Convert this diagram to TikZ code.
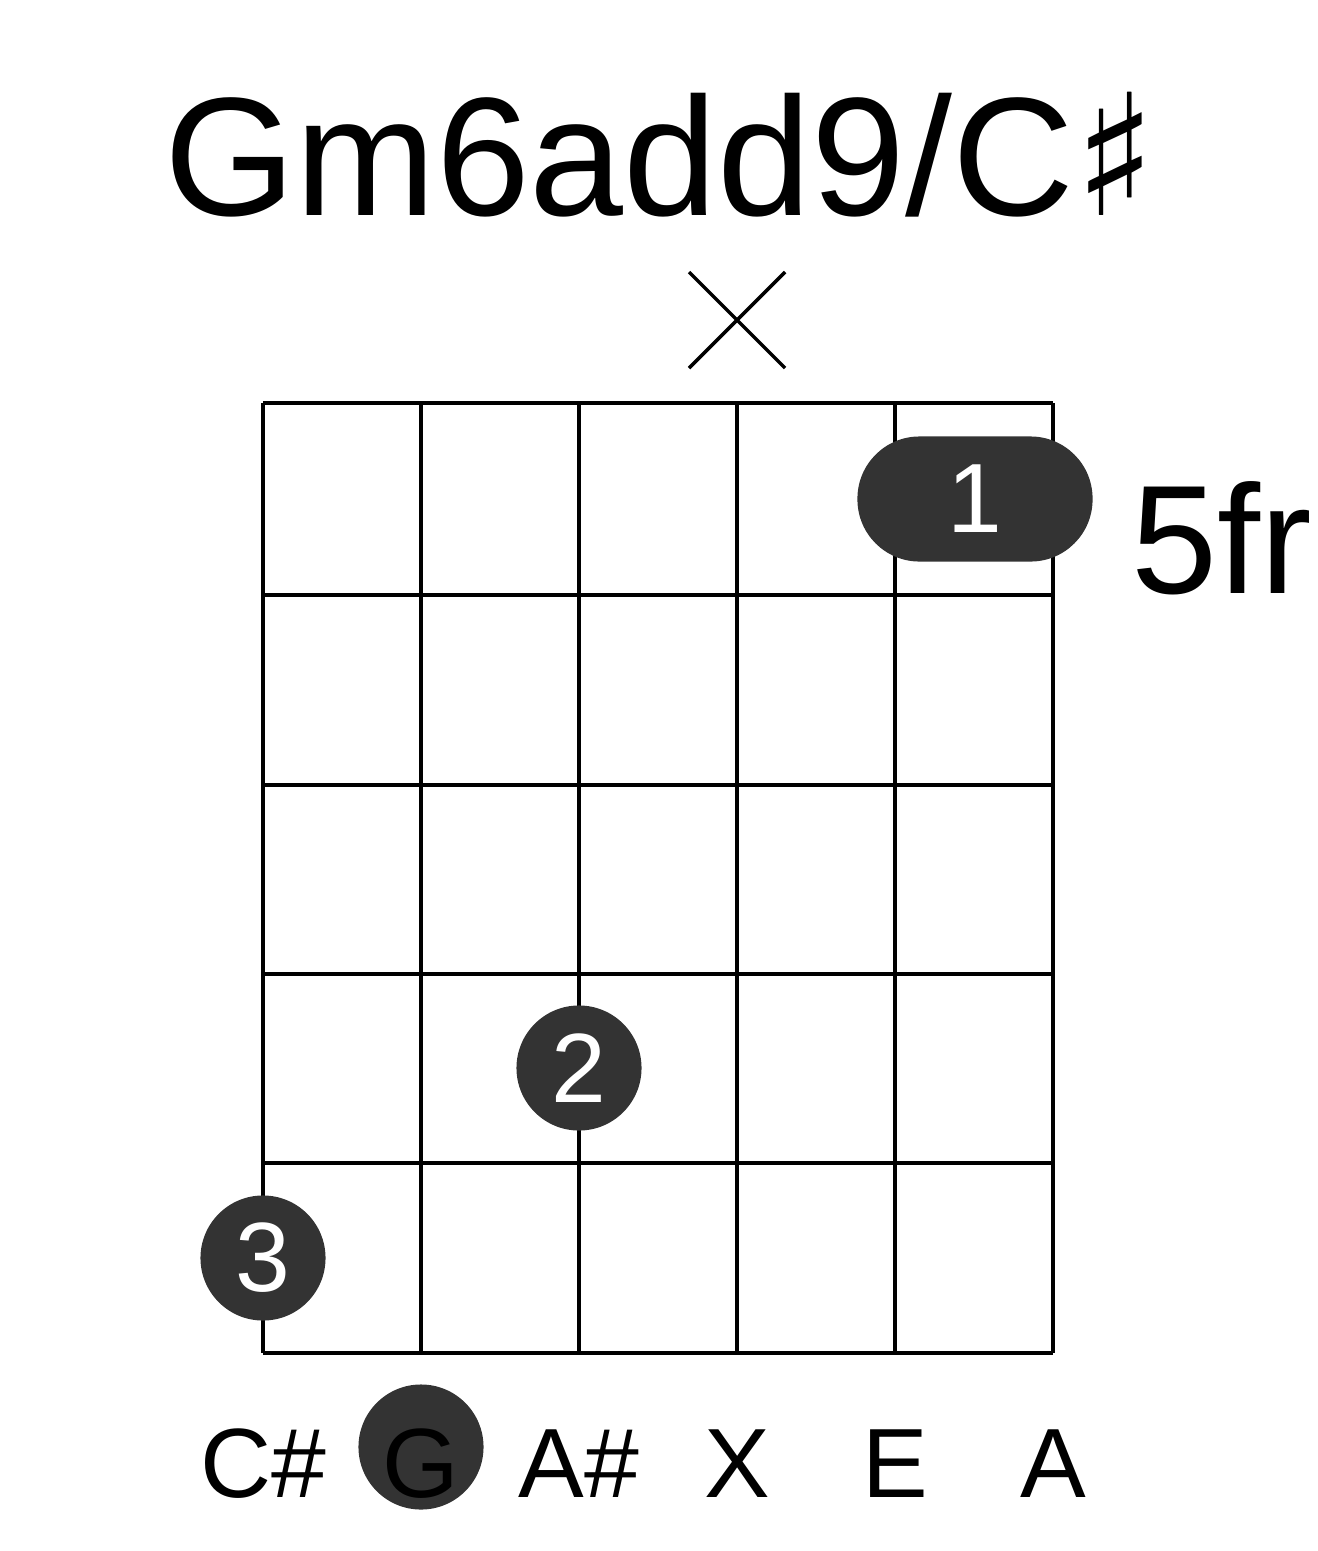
\documentclass[tikz,border=0pt]{standalone}
\usepackage{fontspec}
\setmainfont{Liberation Sans}
\newfontfamily\symfont{DejaVu Sans}
\usepackage{tikz}
\usetikzlibrary{positioning, shapes}
\definecolor{dotgray}{HTML}{333333}

\begin{document}
\begin{tikzpicture}
    [x=0.01cm, y=-0.01cm,
    grid/.style={line width=3pt*0.01/0.0352778},
    finger/.style={circle, fill=dotgray, minimum size=1.25cm, inner sep=0pt, text=white,
    font=\fontsize{28}{28}\selectfont},
    barre/.style={rectangle, rounded corners=0.62cm, fill=dotgray, minimum width=2.35cm,
    minimum height=1.25cm, text=white, font=\fontsize{28}{28}\selectfont},
    notename/.style={font=\fontsize{28}{28}\selectfont, anchor=base}]
    \useasboundingbox (0,0) rectangle (1317,1551);
    % title and fret label
    \node [font=\fontsize{48}{48}\selectfont] (title) at (660,155) {Gm6add9/C{\symfont ♯}};
    \node [font=\fontsize{44}{44}\selectfont] (fret) at (1222,538) {5fr};
    % grid
    \foreach \x in {263,421,579,737,895,1053}
      \draw [line width=1.1pt] (\x,403) -- (\x,1353);
    \foreach \y in {403,595,785,974,1163,1353}
      \draw [line width=1.1pt] (263,\y) -- (1053,\y);
    % muted string
    \draw [line width=1pt] (689,272) -- (785,368) (689,368) -- (785,272);
    % fingers
    \node [barre] (one) at (975,499) {1};
    \node [finger] (two) at (579,1068) {2};
    \node [finger] (three) at (263,1258) {3};
    % note names
    \node [circle, fill=dotgray, minimum size=1.25cm] (root) at (421,1447) {};
    \node [notename] (n1) at (263,1497) {C\#};
    \node [notename] (n2) at (421,1497) {G};
    \node [notename] (n3) at (579,1497) {A\#};
    \node [notename] (n4) at (737,1497) {X};
    \node [notename] (n5) at (895,1497) {E};
    \node [notename] (n6) at (1053,1497) {A};
\end{tikzpicture}
\end{document}
